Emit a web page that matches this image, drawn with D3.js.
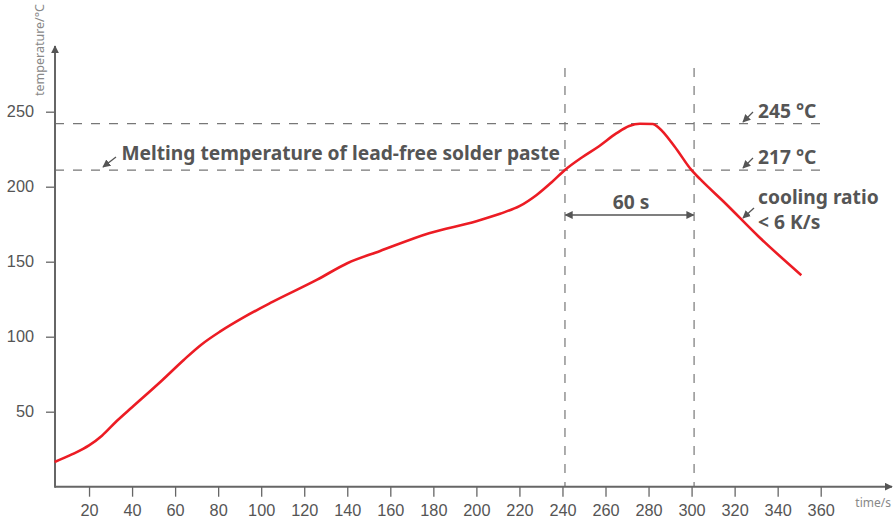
<!DOCTYPE html>
<html>
<head>
<meta charset="utf-8">
<title>Reflow profile</title>
<script src="https://cdn.jsdelivr.net/npm/d3@7"></script>
<style>
body { margin: 0; background: #fff; }
svg { font-family: "Noto Sans", "Open Sans", sans-serif; }
.tick text { fill: #555; font-size: 16.3px; }
.tick line { stroke: #666; stroke-width: 1.3px; }
.note { fill: #555; font-weight: bold; font-size: 19.2px; }
.guide { stroke: #777; stroke-width: 1.2px; stroke-dasharray: 9 9; fill: none; }
.lead { stroke: #555; stroke-width: 1.3px; fill: none; }
</style>
</head>
<body>
<svg width="893" height="522"></svg>
<script>

// profile
var timeS = [4, 12, 20, 26, 33, 40, 54, 64, 72, 81, 92, 105, 126, 140, 155, 178, 200, 211, 220, 228, 235, 241, 249, 257, 265, 271, 276, 282, 285, 292, 300, 304, 316, 331, 351];
var tempC = [16.5, 21.5, 27.5, 34, 44, 53, 71, 84.5, 94.5, 103.5, 113, 123, 138, 149, 157, 169, 177, 182, 187, 194.5, 203, 211, 219.5, 227, 235.5, 240.5, 242, 241.8, 239, 227, 211, 205, 188.5, 167, 141];

var xTicks = [20, 40, 60, 80, 100, 120, 140, 160, 180, 200, 220, 240, 260, 280, 300, 320, 340, 360];
var yTicks = [50, 100, 150, 200, 250];

// dashed guide levels (drawn where the picture has them) and their labels
var levels = [242, 211];
var levelLabels = ["245 °C", "217 °C"];
var window60 = [240, 300];

var svg = d3.select("svg");

var x = d3.scaleLinear().domain([0, 360]).range([46, 820.7]);
var y = d3.scaleLinear().domain([0, 250]).range([486.7, 111.7]);

var x0 = 55, yBase = y(0);

svg.append("defs").append("marker")
    .attr("id", "head")
    .attr("viewBox", "0 0 10 10")
    .attr("refX", 9).attr("refY", 5)
    .attr("markerWidth", 8).attr("markerHeight", 8)
    .attr("markerUnits", "userSpaceOnUse")
    .attr("orient", "auto-start-reverse")
  .append("path")
    .attr("d", "M0,0L10,5L0,10z")
    .attr("fill", "#555");

// guides
svg.append("g").selectAll("line.h")
    .data(levels)
  .enter().append("line")
    .attr("class", "guide")
    .attr("x1", x0).attr("x2", 824)
    .attr("y1", function(d) { return y(d); })
    .attr("y2", function(d) { return y(d); });

svg.append("g").selectAll("line.v")
    .data(window60)
  .enter().append("line")
    .attr("class", "guide")
    .attr("x1", function(d) { return x(d) + 2.5; })
    .attr("x2", function(d) { return x(d) + 2.5; })
    .attr("y1", 68).attr("y2", yBase);

// axes
var xAxis = svg.append("g")
    .attr("transform", "translate(0," + yBase + ")")
    .call(d3.axisBottom(x).tickValues(xTicks).tickSize(10).tickPadding(8));
xAxis.select(".domain").remove();

var yAxis = svg.append("g")
    .attr("transform", "translate(" + x0 + ",0)")
    .call(d3.axisLeft(y).tickValues(yTicks).tickSize(9).tickPadding(12));
yAxis.select(".domain").remove();

svg.append("line")
    .attr("x1", x0).attr("y1", yBase).attr("x2", 892).attr("y2", yBase)
    .attr("stroke", "#666").attr("stroke-width", 2)
    .attr("marker-end", "url(#head)");
svg.append("line")
    .attr("x1", x0).attr("y1", yBase + 1).attr("x2", x0).attr("y2", 46)
    .attr("stroke", "#666").attr("stroke-width", 2)
    .attr("marker-end", "url(#head)");

svg.append("text")
    .attr("transform", "translate(44,96) rotate(-90)")
    .attr("fill", "#888").attr("font-size", 12.5)
    .text("temperature/°C");

svg.append("text")
    .attr("x", 891).attr("y", 507)
    .attr("text-anchor", "end")
    .attr("fill", "#888").attr("font-size", 12)
    .text("time/s");

// curve
var line = d3.line()
    .x(function(d, i) { return x(timeS[i]); })
    .y(function(d) { return y(d); })
    .curve(d3.curveMonotoneX);

svg.append("path")
    .datum(tempC)
    .attr("d", line)
    .attr("fill", "none")
    .attr("stroke", "#ec1c24")
    .attr("stroke-width", 2.6)
    .attr("stroke-linejoin", "round");

// 60 s span
svg.append("line")
    .attr("class", "lead")
    .attr("x1", x(window60[0]) + 3).attr("x2", x(window60[1]) + 2)
    .attr("y1", 215).attr("y2", 215)
    .attr("marker-start", "url(#head)")
    .attr("marker-end", "url(#head)");
svg.append("text").attr("class", "note")
    .attr("x", 631).attr("y", 208.5)
    .attr("text-anchor", "middle")
    .text("60 s");

// notes with leader arrows
function leader(x1, y1, x2, y2) {
  svg.append("line").attr("class", "lead")
      .attr("x1", x1).attr("y1", y1).attr("x2", x2).attr("y2", y2)
      .attr("marker-end", "url(#head)");
}

leader(116, 157, 103, 167);
svg.append("text").attr("class", "note")
    .attr("x", 121.5).attr("y", 159.5)
    .text("Melting temperature of lead-free solder paste");

leader(753, 112, 743, 122);
svg.append("text").attr("class", "note")
    .attr("x", 758).attr("y", 118)
    .text(levelLabels[0]);

leader(753, 158, 743, 168);
svg.append("text").attr("class", "note")
    .attr("x", 758).attr("y", 164)
    .text(levelLabels[1]);

leader(754, 208, 743, 218);
svg.append("text").attr("class", "note")
    .attr("x", 758).attr("y", 204)
    .text("cooling ratio");
svg.append("text").attr("class", "note")
    .attr("x", 758).attr("y", 229)
    .text("< 6 K/s");

</script>
</body>
</html>
